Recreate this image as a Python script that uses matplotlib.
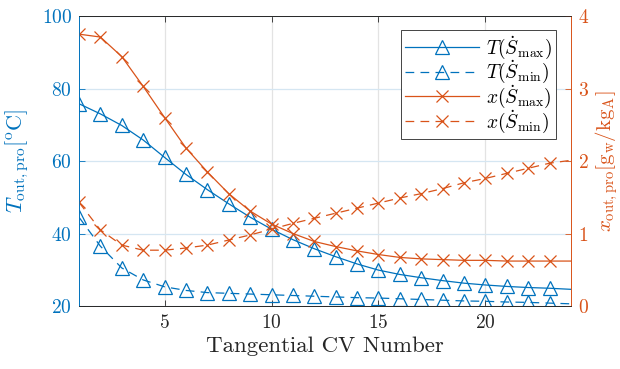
import matplotlib
matplotlib.use("Agg")
import matplotlib.pyplot as plt
import numpy as np

plt.rcParams['font.family'] = 'cmr10'
plt.rcParams['mathtext.fontset'] = 'cm'
plt.rcParams['axes.formatter.use_mathtext'] = True

cv = np.arange(1, 25)

T_max = [75.8, 73.0, 69.8, 65.8, 61.0, 56.3, 52.1, 48.2, 44.5, 41.2, 38.3, 35.8,
         33.6, 31.6, 29.9, 28.7, 27.8, 27.0, 26.3, 25.8, 25.4, 25.1, 24.9, 24.6]
T_min = [44.5, 36.5, 30.5, 27.2, 25.3, 24.3, 23.7, 23.5, 23.3, 23.1, 22.9, 22.7,
         22.5, 22.3, 22.2, 22.0, 21.8, 21.6, 21.4, 21.3, 21.1, 21.0, 20.8, 20.6]
x_max = [3.75, 3.71, 3.44, 3.03, 2.60, 2.18, 1.85, 1.55, 1.31, 1.13, 1.00, 0.89,
         0.82, 0.76, 0.71, 0.67, 0.65, 0.64, 0.63, 0.63, 0.62, 0.62, 0.62, 0.62]
x_min = [1.43, 1.05, 0.84, 0.77, 0.77, 0.80, 0.84, 0.91, 0.98, 1.06, 1.14, 1.21,
         1.28, 1.35, 1.42, 1.49, 1.55, 1.62, 1.70, 1.76, 1.83, 1.90, 1.97, 2.01]

blue = '#0072BD'
orange = '#D95319'
dark = '#262626'
marks = list(range(23))

fig = plt.figure(figsize=(6.2, 3.69), dpi=100)
ax = fig.add_axes([0.1274, 0.1707, 0.7936, 0.7859])
ax2 = ax.twinx()

l1, = ax.plot(cv, T_max, '-', color=blue, lw=0.9, marker='^', ms=10, mfc='none',
              mew=0.9, markevery=marks, label=r'$T(\dot{S}_{\max})$')
l2, = ax.plot(cv, T_min, '--', color=blue, lw=0.9, marker='^', ms=10, mfc='none',
              mew=0.9, markevery=marks, dashes=(7, 5), label=r'$T(\dot{S}_{\min})$')
l3, = ax2.plot(cv, x_max, '-', color=orange, lw=0.9, marker='x', ms=8,
               mew=0.9, markevery=marks, label=r'$x(\dot{S}_{\max})$')
l4, = ax2.plot(cv, x_min, '--', color=orange, lw=0.9, marker='x', ms=8,
               mew=0.9, markevery=marks, dashes=(7, 5), label=r'$x(\dot{S}_{\min})$')

ax.set_xlim(1, 24)
ax.set_ylim(20, 100)
ax2.set_ylim(0, 4)
ax.set_xticks([5, 10, 15, 20])
ax.set_yticks([20, 40, 60, 80, 100])
ax2.set_yticks([0, 1, 2, 3, 4])

ax.grid(axis='x', color='#e3e3e3', lw=0.9)
ax.grid(axis='y', color='#d5e6f2', lw=0.9)
ax.set_axisbelow(True)

ax.tick_params(axis='x', direction='in', top=True, length=4, width=0.6,
               colors=dark, labelsize=14, pad=6)
ax.tick_params(axis='y', direction='in', length=4, width=0.6, colors=blue,
               labelsize=14, pad=5)
ax2.tick_params(axis='y', direction='in', length=4, width=0.6, colors=orange,
                labelsize=14, pad=5)

for a in (ax, ax2):
    a.spines['bottom'].set_color(dark)
    a.spines['top'].set_color(dark)
    a.spines['left'].set_color(blue)
    a.spines['right'].set_color(orange)
    for s in a.spines.values():
        s.set_linewidth(0.6)

ax.set_xlabel('Tangential CV Number', fontsize=16.5, color=dark, labelpad=3)
ax.set_ylabel(r'$T_{\mathrm{out,pro}}[^{\mathrm{o}}\mathrm{C}]$', fontsize=16,
              color=blue, labelpad=8)
ax2.set_ylabel(r'$x_{\mathrm{out,pro}}[\mathrm{g_w}/\mathrm{kg_A}]$', fontsize=15,
               color=orange, labelpad=3)

leg = ax2.legend(handles=[l1, l2, l3, l4], loc='upper right',
                 bbox_to_anchor=(0.97, 0.952), fontsize=14, handlelength=3.8,
                 frameon=True, fancybox=False, edgecolor=dark, framealpha=1,
                 borderpad=0.2, labelspacing=-0.1, handletextpad=0.4,
                 borderaxespad=0)
leg.get_frame().set_linewidth(0.6)

fig.savefig('out.png', dpi=100)
